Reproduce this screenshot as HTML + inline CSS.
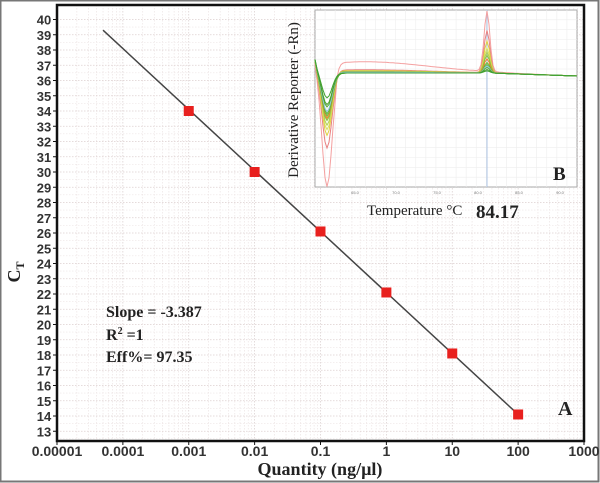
<!DOCTYPE html>
<html><head><meta charset="utf-8"><style>
body{margin:0;background:#fff}
svg{display:block}
text{font-family:"Liberation Sans",sans-serif}
.serif{font-family:"Liberation Serif",serif}
</style></head><body>
<svg id="chart" width="600" height="483" viewBox="0 0 600 483" xmlns="http://www.w3.org/2000/svg">
<rect x="0.5" y="0.5" width="598" height="481" fill="#fff" stroke="#777" stroke-width="2"/>
<g id="grid"></g>
<g id="marks"></g>
<rect x="57" y="5" width="527" height="436" fill="none" stroke="#111" stroke-width="2.5"/>
<g id="yticks"></g>
<g id="xticks"></g>
<text class="serif" transform="translate(20,272) rotate(-90)" text-anchor="middle" font-size="18" font-weight="bold" fill="#222">C<tspan font-size="12" dy="4">T</tspan></text>
<text class="serif" x="320" y="475" text-anchor="middle" font-size="18" font-weight="bold" fill="#222">Quantity (ng/µl)</text>
<g class="serif" font-size="16" font-weight="bold" fill="#222">
<text x="106" y="317" class="serif">Slope = -3.387</text>
<text x="106" y="340" class="serif">R<tspan font-size="10" dy="-6">2</tspan><tspan dy="6"> =1</tspan></text>
<text x="106" y="362" class="serif">Eff%= 97.35</text>
</g>
<text class="serif" x="558" y="415" font-size="20" font-weight="bold" fill="#222">A</text>
<g id="inset">
<rect x="315" y="10" width="262" height="177" fill="#fff" stroke="#aaa" stroke-width="1"/>
<g id="insetgrid"></g>
<line x1="487" y1="10" x2="487" y2="187" stroke="#9bb8e0" stroke-width="0.8"/>
<g id="curves"></g>
<text class="serif" transform="translate(298,100) rotate(-90)" text-anchor="middle" font-size="15" fill="#222">Derivative Reporter (-Rn)</text>
<text class="serif" x="367" y="215" font-size="15" fill="#222">Temperature °C</text>
<text class="serif" x="476" y="218" font-size="19" font-weight="bold" fill="#222">84.17</text>
<text class="serif" x="553" y="180" font-size="19" font-weight="bold" fill="#222">B</text>
</g>
</svg>
<script>
const xTickLabels=["0.00001","0.0001","0.001","0.01","0.1","1","10","100","1000"];
const yTickLabels=[13,14,15,16,17,18,19,20,21,22,23,24,25,26,27,28,29,30,31,32,33,34,35,36,37,38,39,40];
const quantities=[0.001,0.01,0.1,1,10,100];
const ctValues=[34.0,30.0,26.1,22.1,18.1,14.1];
const fitStart=[0.00005,39.3];
const fitEnd=[100,14.1];
// melt curve inset data (relative values)
const dipDepths=[1.0,0.66,0.55,0.5,0.46,0.42,0.4,0.38,0.36,0.34,0.3,0.28,0.22];
const peakHeights=[0.86,0.6,0.45,0.35,0.3,0.25,0.2,0.15,0.12,0.1,0.08,0.05,0.03];
const plateauOffsets=[0.14,0.04,0.03,0.02,0.01,0.02,0.01,0.0,0.0,0.01,0.0,0.0,0.0];
const curveColors=["#f4a0a0","#e88080","#e0d040","#d8e060","#b0d050","#88c040","#f08030","#70b830","#60b040","#90c8e0","#50a830","#48a030","#40a030"];

const NS="http://www.w3.org/2000/svg";
const X0=57,X1=584,Y0=441,Y1=5;
function xs(q){return X0+(Math.log10(q)+5)/8*(X1-X0);}
function ys(v){return 172+(30-v)*15.25;}
function mk(t,a,p){const e=document.createElementNS(NS,t);for(const k in a)e.setAttribute(k,a[k]);p.appendChild(e);return e;}

const grid=document.getElementById('grid');
for(let d=0;d<8;d++){for(let m=1;m<10;m++){const x=xs(Math.pow(10,d-5)*m);
const l=mk('line',{x1:x,x2:x,y1:Y1,y2:Y0,stroke:m==1?'#d8cccc':'#ece4e4','stroke-width':0.7,'stroke-dasharray':'1.5,1.5'},grid);

}}
yTickLabels.forEach(v=>{const y=ys(v);
const l=mk('line',{x1:X0,x2:X1,y1:y,y2:y,stroke:'#ddd0d0','stroke-width':0.7,'stroke-dasharray':'1.5,1.5'},grid);


const ms=mk('line',{x1:X0,x2:X1,y1:y+7.6,y2:y+7.6,stroke:'#eee6e6','stroke-width':0.6,'stroke-dasharray':'1.5,1.5'},grid);

});

const yt=document.getElementById('yticks');
yTickLabels.forEach(v=>{const t=mk('text',{x:44,y:ys(v)+5,'text-anchor':'middle','font-size':13,'font-weight':'bold',fill:'#333'},yt);t.textContent=v;


const k=mk('line',{x1:X0-4,x2:X0,y1:ys(v),y2:ys(v),stroke:'#111'},yt);

});
const xt=document.getElementById('xticks');
xTickLabels.forEach(s=>{const x=xs(parseFloat(s));const t=mk('text',{x:x,y:456,'text-anchor':'middle','font-size':14,'font-weight':'bold',fill:'#333','font-family':'Liberation Serif, serif'},xt);t.textContent=s;


const k=mk('line',{x1:x,x2:x,y1:Y0,y2:Y0+4,stroke:'#111'},xt);

});

const marks=document.getElementById('marks');
const fl=mk('line',{x1:xs(fitStart[0]),y1:ys(fitStart[1]),x2:xs(fitEnd[0]),y2:ys(fitEnd[1]),stroke:'#444','stroke-width':1.5},marks);


quantities.forEach((q,i)=>{const r=mk('rect',{x:xs(q)-5,y:ys(ctValues[i])-5,width:10,height:10,fill:'#e8201e'},marks);

});

// inset
const IX0=315,IX1=577,IY0=10,IY1=187,base=73;
const ig=document.getElementById('insetgrid');
for(let i=1;i<26;i++){const x=IX0+i*(IX1-IX0)/26;const l=mk('line',{x1:x,x2:x,y1:IY0,y2:IY1,stroke:'#eee','stroke-width':0.6},ig);

}
for(let i=1;i<18;i++){const y=IY0+i*(IY1-IY0)/18;const l=mk('line',{x1:IX0,x2:IX1,y1:y,y2:y,stroke:'#eee','stroke-width':0.6},ig);

}
["65.0","70.0","75.0","80.0","85.0","90.0"].forEach((s,i)=>{const t=mk('text',{x:355+i*41,y:194,'font-size':4,fill:'#777','text-anchor':'middle'},ig);t.textContent=s;

});
const cg=document.getElementById('curves');
dipDepths.forEach((d,i)=>{let pts=[];
for(let x=IX0;x<=IX1;x+=2){let u=x-IX0;
let v=base-15*Math.exp(-u/3)+ d*114*Math.exp(-Math.pow((u-12)/7,2))
 - plateauOffsets[i]*80*Math.exp(-Math.pow((u-50)/90,2))*(u>20?1:0)
 - peakHeights[i]*70*Math.exp(-Math.pow((x-487)/4,2))
 + (x>490? 3*(x-490)/87:0);
pts.push(x+','+v.toFixed(1));}
const p=mk('polyline',{points:pts.join(' '),fill:'none',stroke:curveColors[i],'stroke-width':1},cg);

});
</script>
</body></html>
